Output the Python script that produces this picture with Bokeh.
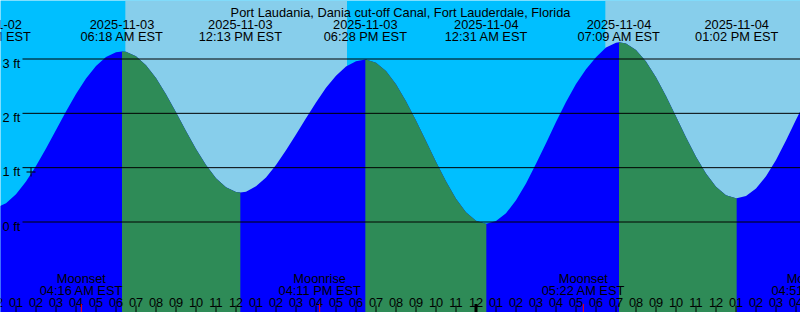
from datetime import datetime
from bokeh.plotting import figure
from bokeh.models import Range1d
from bokeh.core.properties import value
from bokeh.embed import file_html
from bokeh.resources import INLINE

# ---------------- data ----------------
station = "Port Laudania, Dania cut-off Canal, Fort Lauderdale, Florida"
origin = "2025-11-03 00:00"          # hours are counted from this instant (EST)

# tide level (ft) every half hour, starting at origin
curve_step_hours = 0.5
curve_ft = [
    0.256, 0.347, 0.513, 0.745, 1.031, 1.353, 1.695, 2.036, 2.357, 2.640,
    2.871, 3.037, 3.125, 3.133, 3.051, 2.885, 2.650, 2.351, 2.020, 1.677,
    1.345, 1.048, 0.805, 0.638, 0.554, 0.557, 0.66, 0.82, 1.05, 1.32,
    1.61, 1.91, 2.20, 2.47, 2.69, 2.86, 2.96, 2.99, 2.933, 2.778,
    2.536, 2.223, 1.87, 1.49, 1.11, 0.75, 0.43, 0.18, 0.025, -0.03,
    0.02, 0.16, 0.40, 0.71, 1.07, 1.45, 1.84, 2.21, 2.54, 2.81,
    3.03, 3.21, 3.30, 3.285, 3.164, 2.952, 2.663, 2.319, 1.943, 1.562,
    1.203, 0.891, 0.648, 0.493, 0.436, 0.478, 0.616, 0.84, 1.14, 1.50,
    1.88, 2.25,
]

# high / low tides
tide_events = ["2025-11-02 23:41", "2025-11-03 06:18", "2025-11-03 12:13",
               "2025-11-03 18:28", "2025-11-04 00:31", "2025-11-04 07:09",
               "2025-11-04 13:02"]
tide_event_ft = [0.24, 3.14, 0.545, 2.99, -0.03, 3.31, 0.435]

# daylight
sunrises = ["2025-11-03 06:28", "2025-11-04 06:28"]
sunsets = ["2025-11-03 17:33", "2025-11-04 17:33"]

# moon
moon_events = ["2025-11-03 04:16", "2025-11-03 16:11", "2025-11-04 05:22", "2025-11-04 16:51"]
moon_names = ["Moonset", "Moonrise", "Moonset", "Moonrise"]

# level lines
level_ft = [0, 1, 2, 3]
level_labels = ["0 ft", "1 ft", "2 ft", "3 ft"]

# hour ticks
tick_hours = list(range(0, 42))
tick_labels = ["%02d" % ((h % 12) or 12) for h in tick_hours]

# current-time mark
mark_time = "2025-11-03 01:45"
mark_ft = 0.92

# ---------------- helpers ----------------
FMT = "%Y-%m-%d %H:%M"
t0 = datetime.strptime(origin, FMT)


def hrs(s):
    return (datetime.strptime(s, FMT) - t0).total_seconds() / 3600.0


def fmt_time(s):
    d = datetime.strptime(s, FMT)
    return d.strftime("%I:%M %p") + " EST"


W, H = 800, 312
PX_PER_H = 20.0
X_H0 = -4.5          # pixel of hour 0
PX_PER_FT = 54.333
Y_FT0 = 221.5        # pixel of 0 ft


def h_px(x):
    return (x - X_H0) / PX_PER_H


def ft_px(y):
    return (Y_FT0 - y) / PX_PER_FT


p = figure(width=W, height=H, output_backend="svg", toolbar_location=None,
           x_range=Range1d(h_px(0), h_px(W)), y_range=Range1d(ft_px(H), ft_px(0)),
           x_axis_type=None, y_axis_type=None, min_border=0,
           background_fill_color="#00BFFF", outline_line_color=None)
p.border_fill_color = "#00BFFF"

YB, YT = ft_px(H), ft_px(0)

# daylight bands
p.quad(left=[hrs(s) for s in sunrises], right=[hrs(s) for s in sunsets],
       bottom=YB, top=YT, fill_color="#87CEEB", line_color=None)

# tide curve (samples + extremes)
pts = [(i * curve_step_hours, v) for i, v in enumerate(curve_ft)]
ext_h = [hrs(s) for s in tide_events]
pts += list(zip(ext_h, tide_event_ft))
pts.sort()
xs = [a for a, b in pts]
ys = [b for a, b in pts]

# whole area rising colour, then falling segments on top
p.varea(x=xs, y1=YB, y2=ys, fill_color="#0000FF")
bounds = ext_h + [xs[-1]]
for i in range(len(bounds) - 1):
    a, b = bounds[i], bounds[i + 1]
    seg = [(x, y) for x, y in pts if a <= x <= b]
    if len(seg) < 2:
        continue
    if seg[-1][1] < seg[0][1]:
        p.varea(x=[s[0] for s in seg], y1=YB, y2=[s[1] for s in seg],
                fill_color="#2E8B57")

# level lines
p.segment(x0=h_px(22), x1=h_px(W), y0=level_ft, y1=level_ft,
          line_color="black", line_width=1)

FONT = value("Liberation Sans")
FS = "12.8px"
p.text(x=h_px(2), y=[ft_px(Y_FT0 - v * PX_PER_FT + 4.2) for v in level_ft],
       text=level_labels, text_font=FONT, text_font_size=FS,
       text_align="left", text_baseline="alphabetic", text_color="black")

# mark
p.scatter(x=[hrs(mark_time)], y=[mark_ft], marker="cross", size=9,
          line_color="black", line_width=1)

# title
p.text(x=[h_px(W / 2)], y=[ft_px(12.3)], text=[station], text_font=FONT,
       text_font_size=FS, text_align="center", text_baseline="alphabetic",
       text_color="black")

# tide labels
p.text(x=ext_h, y=ft_px(24.3), text=[s[:10] for s in tide_events],
       text_font=FONT, text_font_size=FS, text_align="center",
       text_baseline="alphabetic", text_color="black")
p.text(x=ext_h, y=ft_px(36.3), text=[fmt_time(s) for s in tide_events],
       text_font=FONT, text_font_size=FS, text_align="center",
       text_baseline="alphabetic", text_color="black")

# moon labels
moon_h = [hrs(s) for s in moon_events]
p.text(x=moon_h, y=ft_px(278.3), text=moon_names, text_font=FONT,
       text_font_size=FS, text_align="center", text_baseline="alphabetic",
       text_color="black")
p.text(x=moon_h, y=ft_px(290.3), text=[fmt_time(s) for s in moon_events],
       text_font=FONT, text_font_size=FS, text_align="center",
       text_baseline="alphabetic", text_color="black")

# hour labels & ticks
p.text(x=tick_hours, y=ft_px(301.9), text=tick_labels, text_font=FONT,
       text_font_size=FS, text_align="center", text_baseline="alphabetic",
       text_color="black")
normal = [h for h in tick_hours if h % 24 != 0]
midnight = [h for h in tick_hours if h % 24 == 0]
p.segment(x0=normal, x1=normal, y0=ft_px(305), y1=ft_px(H), line_color="black", line_width=1)
p.segment(x0=midnight, x1=midnight, y0=ft_px(303.5), y1=ft_px(H), line_color="black", line_width=3)
p.segment(x0=moon_h, x1=moon_h, y0=ft_px(303.5), y1=ft_px(H), line_color="red", line_width=1)

open("out.html", "w").write(file_html(p, INLINE))
